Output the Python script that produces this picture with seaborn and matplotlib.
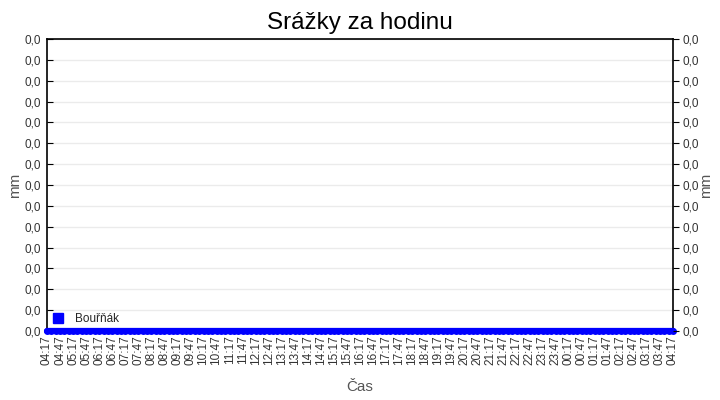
import matplotlib
matplotlib.use('Agg')
from matplotlib import pyplot as plt
from matplotlib.lines import Line2D
import matplotlib.dates as mdates
import matplotlib.ticker as mticker
import pandas as pd
import seaborn as sns

# measurements every 10 minutes over one day, all zero
times = pd.date_range('2024-06-01 04:17', '2024-06-02 04:17', freq='10min')
precip = [0.0] * len(times)
tick_times = pd.date_range('2024-06-01 04:17', '2024-06-02 04:17', freq='30min')
y_ticks = [0.000, 0.001, 0.002, 0.003, 0.004, 0.005, 0.006, 0.007,
           0.008, 0.009, 0.010, 0.011, 0.012, 0.013, 0.014]
series_name = 'Bouřňák'

df = pd.DataFrame({'time': times, 'mm': precip})

sns.set_style('white')
plt.rcParams['font.family'] = ['Liberation Sans', 'DejaVu Sans']

fig = plt.figure(figsize=(7.2, 4.0), dpi=100)
ax = fig.add_axes([47 / 720, 1 - 331 / 400, 626 / 720, 292 / 400])

sns.lineplot(data=df, x='time', y='mm', ax=ax, color='#0000ff', linewidth=4.5,
             marker='o', markersize=5, markeredgewidth=0, clip_on=False,
             zorder=5, legend=False)

fmt = mticker.FuncFormatter(lambda v, p: f'{v:.1f}'.replace('.', ','))

ax.set_xlim(times[0], times[-1])
ax.set_ylim(y_ticks[0], y_ticks[-1])
ax.set_yticks(y_ticks)
ax.yaxis.set_major_formatter(fmt)
ax.set_xticks(tick_times)
ax.xaxis.set_major_formatter(mdates.DateFormatter('%H:%M'))
ax.tick_params(axis='x', direction='in', length=4, labelsize=8.5,
               labelrotation=90, pad=3, colors='black', labelcolor='#333333')
ax.tick_params(axis='y', direction='in', length=4, labelsize=8.5, pad=4,
               colors='black', labelcolor='#333333')
ax.grid(axis='y', color='#ebebeb', linewidth=1)
ax.set_axisbelow(True)
for s in ax.spines.values():
    s.set_color('black')
    s.set_linewidth(1.2)

ax.set_xlabel('Čas', fontsize=11, color='#555555', labelpad=11)
ax.set_ylabel('mm', fontsize=11, color='#555555', labelpad=2)
ax.set_title('Srážky za hodinu', fontsize=17.5, color='black', pad=7)

ax2 = ax.twinx()
ax2.set_ylim(y_ticks[0], y_ticks[-1])
ax2.set_yticks(y_ticks)
ax2.yaxis.set_major_formatter(fmt)
ax2.tick_params(axis='y', direction='out', length=4, labelsize=8.5, pad=3,
                colors='black', labelcolor='#333333')
ax2.set_ylabel('mm', fontsize=11, color='#555555', labelpad=0)
for s in ax2.spines.values():
    s.set_visible(False)

handle = Line2D([], [], marker='s', color='#0000ff', linestyle='none',
                markersize=7.4)
ax.legend([handle], [series_name], loc='lower left',
          bbox_to_anchor=(6 / 626, 6 / 292), borderaxespad=0, frameon=False,
          fontsize=8.5, handlelength=0.8, handletextpad=1.1, borderpad=0)

fig.savefig('out.png', dpi=100)
